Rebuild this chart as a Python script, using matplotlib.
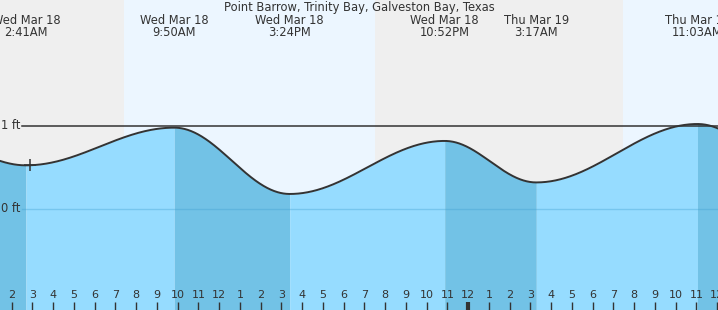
import numpy as np
import matplotlib
matplotlib.use("Agg")
import matplotlib.pyplot as plt

# Tide extremes, hours since Wed Mar 18 00:00 (first/last are off-chart guesses)
extreme_hours = [-2.0, 2.683, 9.833, 15.4, 22.867, 27.283, 35.05, 40.5]
extreme_feet = [0.85, 0.526, 0.98, 0.181, 0.82, 0.32, 1.024, 0.35]
label_dates = ["Wed Mar 18", "Wed Mar 18", "Wed Mar 18", "Wed Mar 18", "Thu Mar 19", "Thu Mar 19"]
label_times = ["2:41AM", "9:50AM", "3:24PM", "10:52PM", "3:17AM", "11:03AM"]

# Sunrise / sunset (hours)
day_spans = [(7.41, 19.52), (31.46, 40.0)]
now_hour = 2.9

title = "Point Barrow, Trinity Bay, Galveston Bay, Texas"
hour_ticks = list(range(2, 37))

X0, X1 = 1.436, 36.04
Y0, Y1 = -1.217, 2.518

LIGHT = "#96dcff"
DARK = "#72c2e6"
NIGHT = "#efefef"
DAY = "#ecf6ff"
INK = "#333333"


def tide_segment(t0, h0, t1, h1, n=200):
    t = np.linspace(t0, t1, n)
    h = h1 + (h0 - h1) * (1 + np.cos(np.pi * (t - t0) / (t1 - t0))) / 2
    return t, h


fig = plt.figure(figsize=(7.18, 3.10), dpi=100)
ax = fig.add_axes([0, 0, 1, 1])
ax.set_xlim(X0, X1)
ax.set_ylim(Y0, Y1)
ax.axis("off")

# night background + day bands
ax.axvspan(X0 - 5, X1 + 5, color=NIGHT, zorder=0, lw=0)
for a, b in day_spans:
    ax.axvspan(a, b, color=DAY, zorder=0.5, lw=0)

# tide curve, darker fill while falling
all_t, all_h = [], []
for i in range(len(extreme_hours) - 1):
    t, h = tide_segment(extreme_hours[i], extreme_feet[i], extreme_hours[i + 1], extreme_feet[i + 1])
    falling = extreme_feet[i + 1] < extreme_feet[i]
    ax.fill_between(t, h, Y0 - 1, color=DARK if falling else LIGHT, lw=0, zorder=1)
    all_t.append(t)
    all_h.append(h)
all_t = np.concatenate(all_t)
all_h = np.concatenate(all_h)
ax.plot(all_t, all_h, color=INK, lw=1.4, zorder=4, solid_capstyle="round")

# reference lines
ax.plot([2.5, X1 + 1], [1, 1], color=INK, lw=1.1, zorder=3)
ax.plot([2.5, X1 + 1], [0, 0], color="#3d9fd0", lw=1, alpha=0.35, zorder=2)
ax.text(1.5, 1, "1 ft", fontsize=8.3, color=INK, ha="left", va="center", zorder=5)
ax.text(1.5, 0, "0 ft", fontsize=8.3, color=INK, ha="left", va="center", zorder=5)

# current time marker
ax.plot([now_hour], [np.interp(now_hour, all_t, all_h)], marker="+", ms=9, mew=1.1,
        color=INK, zorder=5)

# labels at the top
ax.text(0.5, 0.975, title, transform=ax.transAxes, fontsize=8.3, color=INK,
        ha="center", va="center")
for hr, d, tm in zip(extreme_hours[1:-1], label_dates, label_times):
    ax.text(hr, 0.935, d, transform=ax.get_xaxis_transform(), fontsize=8.3,
            color=INK, ha="center", va="center")
    ax.text(hr, 0.895, tm, transform=ax.get_xaxis_transform(), fontsize=8.3,
            color=INK, ha="center", va="center")

# hour ticks along the bottom
xt = ax.get_xaxis_transform()
for hr in hour_ticks:
    lab = hr % 12
    if lab == 0:
        lab = 12
    ax.text(hr, 0.047, str(lab), transform=xt, fontsize=8, color=INK,
            ha="center", va="center", zorder=5)
    ax.plot([hr, hr], [0, 0.026], transform=xt, color=INK,
            lw=3 if hr % 24 == 0 else 1, zorder=5, solid_capstyle="butt")

fig.savefig("out.png", dpi=100)
